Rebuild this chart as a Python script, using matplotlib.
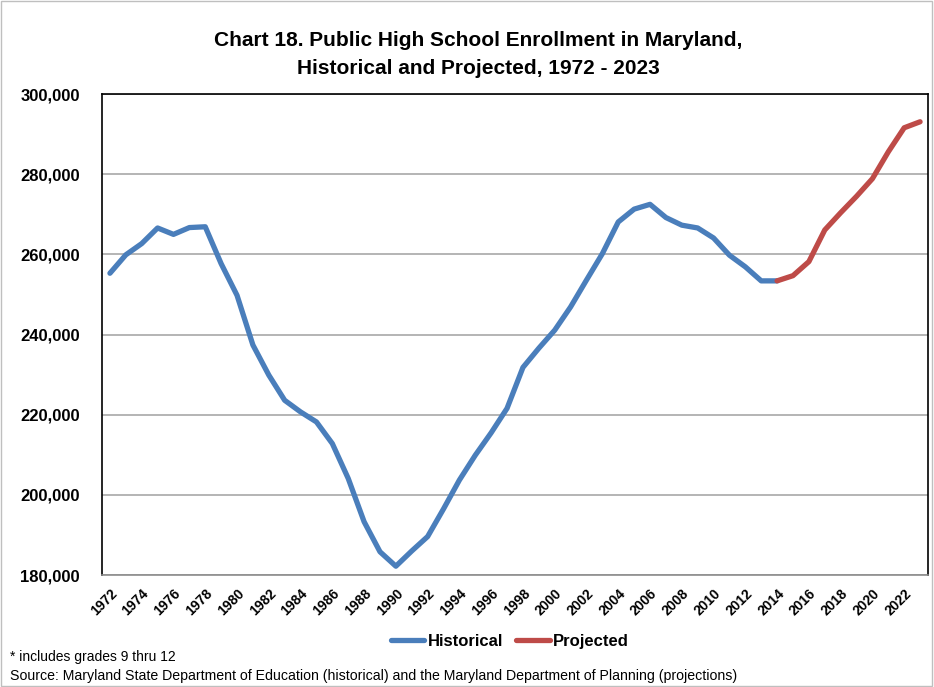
import numpy as np
import matplotlib
matplotlib.use("Agg")
import matplotlib.pyplot as plt
from matplotlib.patches import Rectangle
from matplotlib.ticker import FuncFormatter

plt.rcParams['font.family'] = ['Liberation Sans', 'DejaVu Sans']

# enrollment data
hist_years = list(range(1972, 2015))
hist_values = [255300, 259900, 262700, 266600, 265000, 266700, 266900, 257700, 249800,
               237400, 229900, 223600, 220700, 218200, 212800, 204100, 193300, 185800,
               182200, 186000, 189600, 196500, 203700, 209900, 215500, 221600, 231800,
               236600, 241100, 246900, 253600, 260200, 268100, 271300, 272500, 269200,
               267300, 266600, 264100, 259800, 256900, 253400, 253400]
proj_years = list(range(2014, 2024))
proj_values = [253400, 254700, 258200, 266100, 270400, 274500, 278900, 285600, 291600, 293100]
tick_years = list(range(1972, 2023, 2))

fig = plt.figure(figsize=(9.34, 6.87), dpi=100)
fig.patches.append(Rectangle((0.001, 0.001), 0.997, 0.997, transform=fig.transFigure,
                             fill=False, edgecolor="#bfbfbf", linewidth=1))
ax = fig.add_axes([0.1092, 0.163, 0.8844, 0.700])

ax.plot(hist_years, hist_values, color="#4a7ebb", linewidth=3.8, label="Historical",
        solid_capstyle="round", solid_joinstyle="round")
ax.plot(proj_years, proj_values, color="#be4b48", linewidth=3.8, label="Projected",
        solid_capstyle="round", solid_joinstyle="round")

ax.set_xlim(1971.5, 2023.5)
ax.set_ylim(180000, 300000)
ax.set_yticks(np.arange(180000, 300001, 20000))
ax.yaxis.set_major_formatter(FuncFormatter(lambda v, p: f"{int(v):,}"))
ax.set_xticks(tick_years)
ax.set_xticklabels([str(y) for y in tick_years], rotation=45, ha="right",
                   rotation_mode="anchor", fontsize=10, fontweight="bold")
for lbl in ax.get_yticklabels():
    lbl.set_fontsize(12)
    lbl.set_fontweight("bold")
ax.tick_params(axis="y", length=0, pad=16)
ax.tick_params(axis="x", length=0, pad=8)
ax.grid(True, axis="y", color="#a0a0a0", linewidth=1.1)
ax.set_axisbelow(True)
for s in ax.spines.values():
    s.set_color("black")
    s.set_linewidth(1.2)
ax.spines["bottom"].set_color("#8c8c8c")

fig.text(0.512, 0.920, "Chart 18. Public High School Enrollment in Maryland,\nHistorical and Projected, 1972 - 2023",
         ha="center", va="center", fontsize=15, fontweight="bold", linespacing=1.6)

fig.legend(loc="center", bbox_to_anchor=(0.546, 0.066), ncol=2, frameon=False,
           prop={"weight": "bold", "size": 12}, handlelength=2.0, handletextpad=0.2,
           columnspacing=0.8)

fig.text(0.011, 0.043, "* includes grades 9 thru 12", fontsize=10, va="center")
fig.text(0.011, 0.016, "Source: Maryland State Department of Education (historical) and the Maryland Department of Planning (projections)",
         fontsize=10.2, va="center")

fig.savefig("out.png", dpi=100)
